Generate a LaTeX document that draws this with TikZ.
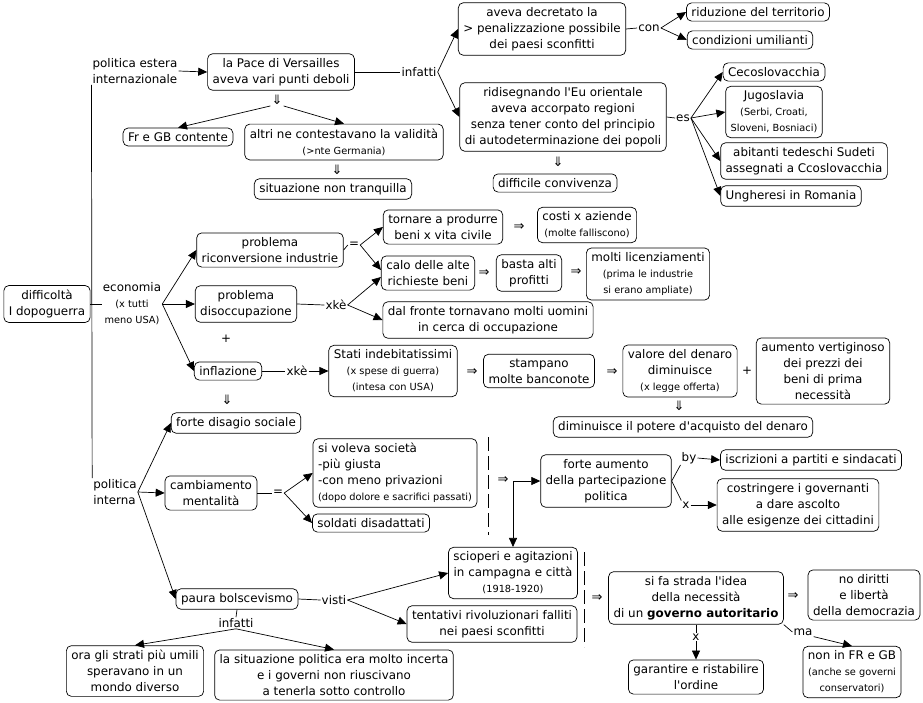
\documentclass[tikz,border=0pt]{standalone}
\usepackage{fontspec}
\setmainfont{DejaVu Sans}[Ligatures=TeXOff]
\usetikzlibrary{arrows.meta, positioning, calc}
\tikzset{%
  cbox/.style={draw, rounded corners=5pt, align=center, inner xsep=5pt, inner ysep=4.5pt, line width=0.7pt, fill=white},
  lbl/.style={inner sep=1pt, align=center},
  sym/.style={inner sep=1pt, font=\fontsize{13}{16}\selectfont},
  edge/.style={line width=0.7pt},
  move/.style={line width=0.7pt, -{Triangle[length=9pt,width=8pt]}},
  dashsep/.style={line width=0.7pt, dash pattern=on 14pt off 5pt}
}
\newcommand{\sm}[1]{{\fontsize{9.8}{12}\selectfont #1}}

\begin{document}
\begin{tikzpicture}[x=1pt, y=-1pt, font=\fontsize{11.9}{16}\selectfont]
  \useasboundingbox (0,0) rectangle (923,702);

  \node[lbl, align=left] (estera) at (135,71) {politica estera\\internazionale};
  \node[cbox] (pace) at (281,72) {la Pace di Versailles\\aveva vari punti deboli};
  \node[lbl] (infA) at (419,72) {infatti};
  \node[cbox] (decr) at (542,29) {aveva decretato la\\> penalizzazione possibile\\dei paesi sconfitti};
  \node[lbl] (con) at (649,28) {con};
  \node[cbox] (riduz) at (758,12) {riduzione del territorio};
  \node[cbox] (condiz) at (750,40) {condizioni umilianti};
  \node[cbox] (ridis) at (563,117) {ridisegnando l'Eu orientale\\aveva accorpato regioni\\senza tener conto del principio\\di autodeterminazione dei popoli};
  \node[lbl] (es) at (683,118) {es};
  \node[cbox] (ceco) at (774,72) {Cecoslovacchia};
  \node[cbox] (jugo) at (774,112) {Jugoslavia\\\sm{(Serbi, Croati,}\\\sm{Sloveni, Bosniaci)}};
  \node[cbox] (sudeti) at (804,161) {abitanti tedeschi Sudeti\\assegnati a Ccoslovacchia};
  \node[cbox] (ungh) at (791,196) {Ungheresi in Romania};
  \node[sym] (dpace) at (277,100) {⇓};
  \node[cbox] (frgb) at (178,137) {Fr e GB contente};
  \node[cbox] (altri) at (344,142) {altri ne contestavano la validità\\\sm{(>nte Germania)}};
  \node[sym] (dalt) at (337,170) {⇓};
  \node[cbox] (tranq) at (333,189) {situazione non tranquilla};
  \node[sym] (dridis) at (558,162) {⇓};
  \node[cbox] (conviv) at (555,183) {difficile convivenza};

  \node[cbox] (diff) at (47,304) {difficoltà\\I dopoguerra};
  \node[lbl] (econ) at (132,304) {economia\\\sm{(x tutti}\\\sm{meno USA)}};
  \node[cbox] (riconv) at (270,250) {problema\\riconversione industrie};
  \node[cbox] (disocc) at (246,304) {problema\\disoccupazione};
  \node[lbl] (plusA) at (226,339) {+};
  \node[cbox] (infl) at (228,371) {inflazione};
  \node[lbl] (eqA) at (354,245) {=};
  \node[lbl] (xkeA) at (336,305) {xkè};
  \node[cbox] (tornare) at (443,227) {tornare a produrre\\beni x vita civile};
  \node[sym] (impA) at (519,227) {⇒};
  \node[cbox] (costi) at (587,225) {costi x aziende\\\sm{(molte falliscono)}};
  \node[cbox] (calo) at (428,273) {calo delle alte\\richieste beni};
  \node[sym] (impB) at (484,273) {⇒};
  \node[cbox] (basta) at (529,273) {basta alti\\profitti};
  \node[sym] (impC) at (576,272) {⇒};
  \node[cbox] (licenz) at (648,274) {molti licenziamenti\\\sm{(prima le industrie}\\\sm{si erano ampliate)}};
  \node[cbox] (fronte) at (488,320) {dal fronte tornavano molti uomini\\in cerca di occupazione};
  \node[lbl] (xkeB) at (297,371) {xkè};
  \node[cbox] (stati) at (393,371) {Stati indebitatissimi\\\sm{(x spese di guerra)}\\\sm{(intesa con USA)}};
  \node[sym] (impD) at (472,372) {⇒};
  \node[cbox] (stamp) at (539,371) {stampano\\molte banconote};
  \node[sym] (impE) at (612,372) {⇒};
  \node[cbox] (valore) at (680,371) {valore del denaro\\diminuisce\\\sm{(x legge offerta)}};
  \node[lbl] (plusB) at (747,371) {+};
  \node[cbox] (prezzi) at (823,371) {aumento vertiginoso\\dei prezzi dei\\beni di prima\\necessità};
  \node[sym] (dval) at (679,406) {⇓};
  \node[cbox] (potere) at (683,427) {diminuisce il potere d'acquisto del denaro};
  \node[sym] (dinfl) at (227,400) {⇓};
  \node[cbox] (disagio) at (236,423) {forte disagio sociale};

  \node[lbl, align=left] (interna) at (115,492) {politica\\interna};
  \node[cbox] (camb) at (211,493) {cambiamento\\mentalità};
  \node[lbl] (eqB) at (278,493) {=};
  \node[cbox, align=left] (voleva) at (395,473) {si voleva società\\-più giusta\\-con meno privazioni\\\sm{(dopo dolore e sacrifici passati)}};
  \node[cbox] (soldati) at (371,523) {soldati disadattati};
  \node[cbox] (paura) at (237,599) {paura bolscevismo};
  \node[lbl] (visti) at (334,600) {visti};
  \node[cbox] (sciop) at (513,573) {scioperi e agitazioni\\in campagna e città\\\sm{(1918-1920)}};
  \node[cbox] (tentat) at (492,624) {tentativi rivoluzionari falliti\\nei paesi sconfitti};
  \node[lbl] (infB) at (236,623) {infatti};
  \node[cbox] (umili) at (135,671) {ora gli strati più umili\\speravano in un\\mondo diverso};
  \node[cbox] (incerta) at (334,675) {la situazione politica era molto incerta\\e i governi non riuscivano\\a tenerla sotto controllo};
  \node[sym] (impF) at (503,480) {⇒};
  \coordinate (fork) at (513,481);
  \node[cbox] (aumento) at (606,481) {forte aumento\\della partecipazione\\politica};
  \node[lbl] (by) at (689,458) {by};
  \node[lbl] (xa) at (686,505) {x};
  \node[cbox] (iscr) at (811,460) {iscrizioni a partiti e sindacati};
  \node[cbox] (costr) at (798,505) {costringere i governanti\\a dare ascolto\\alle esigenze dei cittadini};
  \node[sym] (impG) at (597,598) {⇒};
  \node[cbox] (strada) at (696,598) {si fa strada l'idea\\della necessità\\di un \textbf{governo autoritario}};
  \node[sym] (impH) at (793,596) {⇒};
  \node[cbox] (nodir) at (864,595) {no diritti\\e libertà\\della democrazia};
  \node[lbl] (xb) at (696,637) {x};
  \node[cbox] (garant) at (696,677) {garantire e ristabilire\\l'ordine};
  \node[lbl] (ma) at (803,632) {ma};
  \node[cbox] (nonfr) at (852,672) {non in FR e GB\\\sm{(anche se governi}\\\sm{conservatori)}};

  \coordinate (sepA) at (488,437);
  \coordinate (sepB) at (488,535);
  \coordinate (sepC) at (584,552);
  \coordinate (sepD) at (584,647);
  \draw[dashsep] (sepA) to (sepB);
  \draw[dashsep] (sepC) to (sepD);

  \draw[edge] (estera.south west) to (interna.north west);
  \draw[move] (estera.east) to (pace.west);
  \draw[edge] (pace.east) to (infA.west);
  \draw[move] (infA.east) to (decr.west);
  \draw[move] (infA.east) to (ridis.west);
  \draw[edge] (decr.east) to (con.west);
  \draw[move] (con.east) to (riduz.west);
  \draw[move] (con.east) to (condiz.west);
  \draw[edge] (ridis.east) to (es.west);
  \draw[move] (es.east) to (ceco.west);
  \draw[move] (es.east) to (jugo.west);
  \draw[move] (es.east) to (sudeti.west);
  \draw[move] (es.east) to (ungh.west);
  \draw[move] (dpace.south west) to (frgb.north);
  \draw[move] (dpace.south east) to (altri.north);

  \draw[edge] (diff.east) to (econ.west);
  \draw[move] (econ.east) to (riconv.west);
  \draw[move] (econ.east) to (disocc.west);
  \draw[move] (econ.east) to (infl.west);
  \draw[edge] (riconv.east) to (eqA.west);
  \draw[move] (eqA.east) to (tornare.west);
  \draw[move] (eqA.east) to ([yshift=3pt]calo.west);
  \draw[edge] (disocc.east) to (xkeA.west);
  \draw[move] (xkeA.east) to ([yshift=-4pt]calo.west);
  \draw[move] (xkeA.east) to (fronte.west);
  \draw[edge] (infl.east) to (xkeB.west);
  \draw[move] (xkeB.east) to (stati.west);

  \draw[move] (interna.east) to (disagio.west);
  \draw[move] (interna.east) to (camb.west);
  \draw[move] (interna.east) to (paura.west);
  \draw[edge] (camb.east) to (eqB.west);
  \draw[move] (eqB.east) to (voleva.west);
  \draw[move] (eqB.east) to (soldati.west);
  \draw[edge] (paura.east) to (visti.west);
  \draw[move] (visti.east) to (sciop.west);
  \draw[move] (visti.east) to (tentat.west);
  \draw[edge] (paura.south) to (infB.north);
  \draw[move] (infB.south) to (umili.north);
  \draw[move] (infB.south) to (incerta.north);
  \draw[move] (fork) to (aumento.west);
  \draw[move] (fork) to (sciop.north);
  \draw[edge] (aumento.east) to (by.south west);
  \draw[move] (by.east) to (iscr.west);
  \draw[edge] (aumento.east) to (xa.north west);
  \draw[move] (xa.east) to (costr.west);
  \draw[edge] (strada.south) to (xb.north);
  \draw[move] (xb.south) to (garant.north);
  \draw[edge] (strada.south east) to (ma.west);
  \draw[move] (ma.south east) to (nonfr.north);
\end{tikzpicture}
\end{document}
